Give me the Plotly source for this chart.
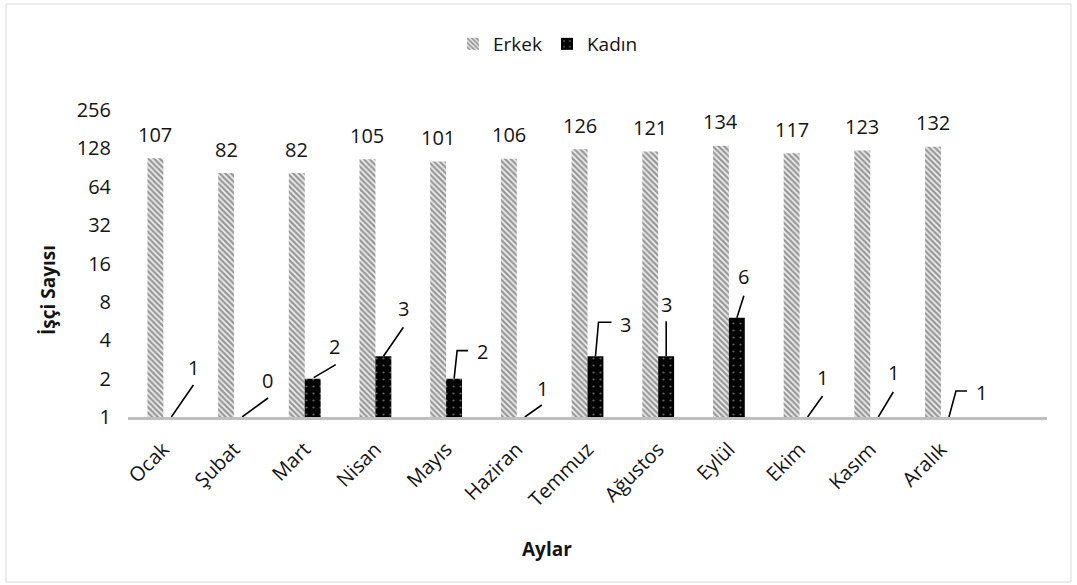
import numpy as np
import plotly.graph_objects as go

# ---- data ----
months = ["Ocak", "Şubat", "Mart", "Nisan", "Mayıs", "Haziran",
          "Temmuz", "Ağustos", "Eylül", "Ekim", "Kasım", "Aralık"]
erkek = [107, 82, 82, 105, 101, 106, 126, 121, 134, 117, 123, 132]
kadin = [1, 0, 2, 3, 2, 1, 3, 3, 6, 1, 1, 1]
y_ticks = [1, 2, 4, 8, 16, 32, 64, 128, 256]

# ---- layout constants (page pixels) ----
W, H = 1077, 585
PLOT_X0, PLOT_X1 = 128, 1047
PLOT_Y0, PLOT_Y1 = 110, 417
L, R = PLOT_X0, W - PLOT_X1
T, B = PLOT_Y0, H - PLOT_Y1
PW, PH = PLOT_X1 - PLOT_X0, PLOT_Y1 - PLOT_Y0
FONT = "Open Sans"
TXT = "#141414"
BAR_HALF = 8  # half of one bar's width in px


def px2paper_x(px):
    return (px - PLOT_X0) / PW


def px2paper_y(py):
    return (PLOT_Y1 - py) / PH


# callout styling for Kadın labels: text offset (dx, dy) and leader path, pixels
callouts = [
    ((22, -50), [(0, 0), (22, -32)]),
    ((25, -37), [(0, 0), (26, -19)]),
    ((22, -32), [(1, -1), (23, -14)]),
    ((20, -48), [(0, 0), (20, -29)]),
    ((28, -27), [(0, 0), (3, -28), (14, -28)]),
    ((18, -29), [(0, 0), (17, -12)]),
    ((30, -32), [(0, 0), (3, -34), (16, -34)]),
    ((0, -52), [(0, 0), (0, -35)]),
    ((7, -41), [(0, 0), (7, -22)]),
    ((15, -40), [(0, 0), (15, -21)]),
    ((15, -45), [(0, 0), (15, -25)]),
    ((33, -25), [(0, 0), (7, -26), (18, -26)]),
]

fig = go.Figure()
fig.add_trace(go.Bar(
    name="Erkek", x=months, y=erkek,
    marker=dict(color="white", line=dict(width=0),
                pattern=dict(shape="\\", fgcolor="#3f3f3f", bgcolor="#f2f2f2",
                             size=4, solidity=0.6)),
))
fig.add_trace(go.Bar(
    name="Kadın", x=months, y=kadin,
    marker=dict(color="black", line=dict(width=0),
                pattern=dict(shape=".", fgcolor="#c8c8c8", bgcolor="black",
                             size=7, solidity=0.08)),
))

annotations = []
shapes = []
for i, (m, v) in enumerate(zip(months, erkek)):
    annotations.append(dict(
        x=i, y=np.log10(v), xref="x", yref="y", text=str(v), showarrow=False,
        xshift=-BAR_HALF, yshift=24, font=dict(family=FONT, size=20, color=TXT)))

for i, (m, v) in enumerate(zip(months, kadin)):
    (dx, dy), path = callouts[i]
    base = max(v, 1)
    annotations.append(dict(
        x=i, y=np.log10(base), xref="x", yref="y", text=str(v), showarrow=False,
        xshift=BAR_HALF + dx, yshift=-dy, font=dict(family=FONT, size=20, color=TXT)))
    d = "M" + " L".join(f"{px + BAR_HALF},{-py}" for px, py in path)
    shapes.append(dict(
        type="path", xref="x", yref="y", xsizemode="pixel", ysizemode="pixel",
        xanchor=i, yanchor=base, path=d,
        line=dict(color="black", width=1.6)))

# axis titles
annotations.append(dict(
    x=px2paper_x(48), y=px2paper_y(290), xref="paper", yref="paper",
    xanchor="center", yanchor="middle",
    text="<b>İşçi Sayısı</b>", textangle=-90, showarrow=False,
    font=dict(family=FONT, size=19, color=TXT)))
annotations.append(dict(
    x=px2paper_x(547), y=px2paper_y(549), xref="paper", yref="paper",
    xanchor="center", yanchor="middle",
    text="<b>Aylar</b>", showarrow=False,
    font=dict(family=FONT, size=19, color=TXT)))

# chart-area border
shapes.append(dict(
    type="rect", xref="paper", yref="paper",
    x0=px2paper_x(6), x1=px2paper_x(1071),
    y0=px2paper_y(582), y1=px2paper_y(4),
    line=dict(color="#d9d9d9", width=1), layer="below"))

fig.update_layout(
    width=W, height=H,
    margin=dict(l=L, r=R, t=T, b=B),
    paper_bgcolor="white", plot_bgcolor="white",
    barmode="group", bargap=0.55, bargroupgap=0,
    showlegend=True,
    legend=dict(orientation="h", x=px2paper_x(548), xanchor="center",
                y=px2paper_y(44), yanchor="middle",
                font=dict(family=FONT, size=19, color=TXT),
                itemwidth=30, traceorder="normal"),
    font=dict(family=FONT, size=20, color=TXT),
    annotations=annotations,
    shapes=shapes,
)
fig.update_xaxes(
    type="category", range=[-0.5, 12.5], tickangle=-45,
    showline=True, linecolor="#bfbfbf", linewidth=2.5,
    showgrid=False, ticks="outside", ticklen=10, tickcolor="rgba(0,0,0,0)",
    tickfont=dict(family=FONT, size=20, color=TXT),
)
fig.update_yaxes(
    type="log", range=[0, np.log10(256)], tickvals=y_ticks,
    ticktext=[str(t) for t in y_ticks], showgrid=False, zeroline=False,
    showline=False, ticks="outside", ticklen=12, tickcolor="rgba(0,0,0,0)",
    tickfont=dict(family=FONT, size=20, color=TXT),
)

fig.write_html(
    "out.html",
    config={"displayModeBar": False},
    post_script="document.body.style.margin='0';document.body.style.overflow='hidden';",
)
